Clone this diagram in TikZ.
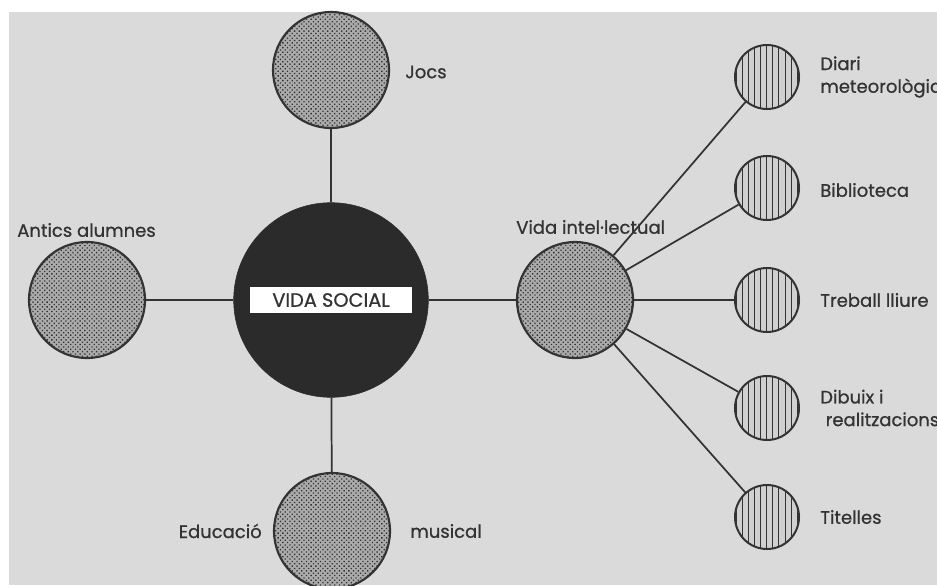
\documentclass[tikz,border=0pt]{standalone}
\usepackage{fontspec}
\setmainfont{Poppins}[FakeBold=0.8]
\usetikzlibrary{patterns.meta}

\definecolor{paper}{HTML}{DADADA}
\definecolor{ink}{HTML}{333333}
\definecolor{dotfill}{HTML}{ABABAB}
\definecolor{hubfill}{HTML}{2B2B2B}
\definecolor{linefill}{HTML}{D0D0D0}

\tikzset{
  dotball/.style={circle, draw=ink, line width=1.6pt, minimum size=87pt, inner sep=0pt,
    preaction={fill=dotfill}, pattern={Dots[angle=45, distance=2.5pt, radius=0.7pt]}, pattern color=ink},
  lineball/.style={circle, draw=ink, line width=1.5pt, minimum size=48pt, inner sep=0pt,
    preaction={fill=linefill}, pattern={Lines[angle=90, distance=4.6pt, line width=0.75pt]}, pattern color=ink},
  hub/.style={circle, draw=hubfill, fill=hubfill, minimum size=146pt, inner sep=0pt},
  tag/.style={fill=white, text=ink, font=\fontsize{14.5}{16}\selectfont, minimum width=121pt, minimum height=19pt, inner sep=0pt},
  txt/.style={text=ink, font=\fontsize{13.5}{17}\selectfont, inner sep=0pt, align=left},
  link/.style={draw=ink, line width=1.3pt}
}

\begin{document}
\begin{tikzpicture}[x=0.75pt, y=-0.75pt]
    \useasboundingbox (0,0) rectangle (937,585);
    \fill [white] (0,0) rectangle (937,585);
    \fill [paper] (9,12) rectangle (937,585);

    % central circle
    \node [hub] (social) at (331,300) {};
    \node [tag] (socialtag) at (331,300) {VIDA SOCIAL};

    \node [dotball] (jocs) at (331,70) {};
    \node [dotball] (antics) at (87,300) {};
    \node [dotball] (musica) at (332,531) {};
    \node [dotball] (intel) at (575,300) {};

    % right column
    \node [lineball] (diari) at (767,77) {};
    \node [lineball] (biblio) at (767,188) {};
    \node [lineball] (treball) at (767,300) {};
    \node [lineball] (dibuix) at (767,408) {};
    \node [lineball] (titelles) at (767,517) {};

    \draw [link] (social) -- (jocs);
    \draw [link] (social) -- (antics);
    \draw [link] (social) -- (musica);
    \draw [link] (social) -- (intel);
    \draw [link] (intel) -- (diari);
    \draw [link] (intel) -- (biblio);
    \draw [link] (intel) -- (treball);
    \draw [link] (intel) -- (dibuix);
    \draw [link] (intel) -- (titelles);

    % labels
    \node [txt, anchor=west] (jocslabel) at (405,72) {Jocs};
    \node [txt, anchor=west] (anticslabel) at (17,230) {Antics alumnes};
    \node [txt, anchor=west] (intellabel) at (516,227) {Vida intel·lectual};
    \node [txt, anchor=east] (educlabel) at (262,531) {Educació};
    \node [txt, anchor=west] (musiclabel) at (410,531) {musical};
    \node [txt, anchor=west] (diarilabel) at (820,77) {Diari\\meteorològic};
    \node [txt, anchor=west] (bibliolabel) at (820,190) {Biblioteca};
    \node [txt, anchor=west] (treballlabel) at (820,300) {Treball lliure};
    \node [txt, anchor=west] (dibuixlabel) at (820,408) {Dibuix i\\\hspace*{0.3em}realitzacions};
    \node [txt, anchor=west] (titelleslabel) at (820,517) {Titelles};
\end{tikzpicture}
\end{document}
